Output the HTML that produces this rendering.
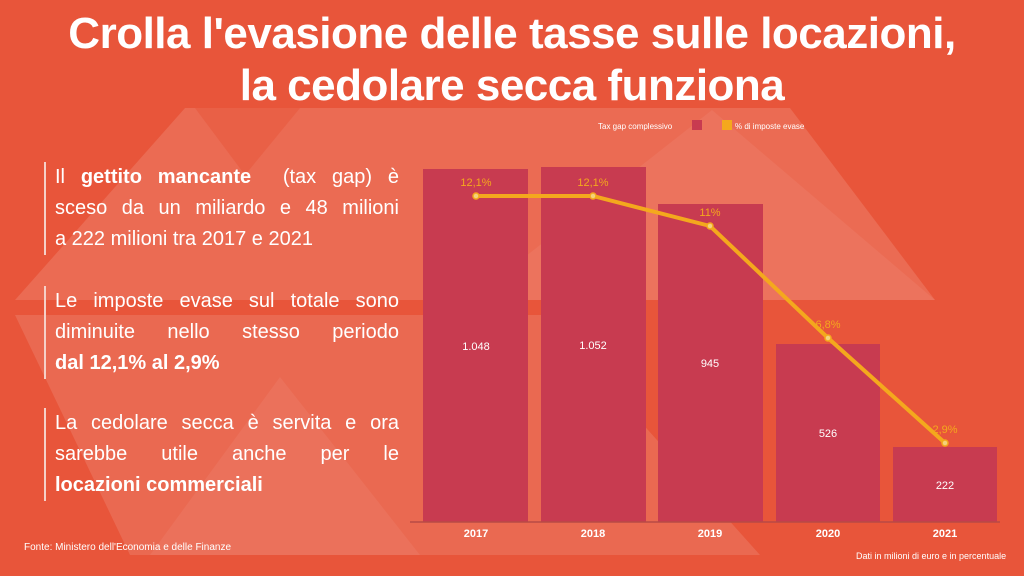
<!DOCTYPE html><html><head><style>
body{margin:0;width:1024px;height:576px;overflow:hidden;background:#e8553a;font-family:"Liberation Sans",sans-serif;position:relative}
.t{position:absolute;left:0;width:1024px;text-align:center;color:#fff;font-weight:bold;font-size:44px;letter-spacing:-0.5px}
.p{position:absolute;left:44px;width:344px;border-left:2px solid #f5d0c8;padding-left:9px;color:#fff;font-size:20px;line-height:31px}
.p div{text-align:justify;text-align-last:justify;white-space:nowrap}
.p div.l{text-align-last:left}
.p b{font-weight:bold}
.s{position:absolute;color:#fff;font-size:10px}
</style></head><body>
<svg width="1024" height="576" style="position:absolute;left:0;top:0">
<g fill="#fff">
<polygon opacity="0.13" points="15,300 185,108 790,108 935,300"/>
<polygon opacity="0.12" points="15,315 545,315 760,555 130,555"/>
<polygon opacity="0.06" points="150,555 280,377 420,555"/>
<polygon opacity="0.06" points="470,300 712,110 935,300"/>
</g>
<polygon points="195,108 300,108 245,175" fill="#e8553a" opacity="0.5"/>
<g fill="#c83b50">
<rect x="423" y="169" width="105" height="353"/>
<rect x="541" y="167" width="105" height="355"/>
<rect x="658" y="204" width="105" height="318"/>
<rect x="776" y="344" width="104" height="178"/>
<rect x="893" y="447" width="104" height="75"/>
</g>
<line x1="410" y1="522" x2="1000" y2="522" stroke="#b84a45" stroke-width="1.5"/>
<polyline points="476,196 593,196 710,226 828,338 945,443" fill="none" stroke="#f4a81d" stroke-width="4"/>
<g fill="#f4d27a" stroke="#f4a81d" stroke-width="1.5">
<circle cx="476" cy="196" r="3"/><circle cx="593" cy="196" r="3"/><circle cx="710" cy="226" r="3"/><circle cx="828" cy="338" r="3"/><circle cx="945" cy="443" r="3"/></g>
<g font-family="Liberation Sans" font-size="11" text-anchor="middle" fill="#f4a81d">
<text x="476" y="186">12,1%</text><text x="593" y="186">12,1%</text><text x="710" y="216">11%</text><text x="828" y="328">6,8%</text><text x="945" y="433">2,9%</text></g>
<g font-family="Liberation Sans" font-size="11" text-anchor="middle" fill="#fff">
<text x="476" y="350">1.048</text><text x="593" y="349">1.052</text><text x="710" y="367">945</text><text x="828" y="437">526</text><text x="945" y="489">222</text>
<text x="476" y="537" font-weight="bold">2017</text><text x="593" y="537" font-weight="bold">2018</text><text x="710" y="537" font-weight="bold">2019</text><text x="828" y="537" font-weight="bold">2020</text><text x="945" y="537" font-weight="bold">2021</text></g>
<rect x="692" y="120" width="10" height="10" fill="#c83b50"/><rect x="722" y="120" width="10" height="10" fill="#f4a81d"/>
<g font-family="Liberation Sans" font-size="8" fill="#fff"><text x="598" y="129">Tax gap complessivo</text><text x="735" y="129">% di imposte evase</text></g>
</svg>
<div class="t" style="top:9px">Crolla l'evasione delle tasse sulle locazioni,</div>
<div class="t" style="top:61px">la cedolare secca funziona</div>
<div class="p" style="top:162px"><div>Il <b>gettito mancante</b> &nbsp;(tax gap) è</div><div>sceso da un miliardo e 48 milioni</div><div class="l">a 222 milioni tra 2017 e 2021</div></div>
<div class="p" style="top:286px"><div>Le imposte evase sul totale sono</div><div>diminuite nello stesso periodo</div><div class="l"><b>dal 12,1% al 2,9%</b></div></div>
<div class="p" style="top:408px"><div>La cedolare secca è servita e ora</div><div>sarebbe utile anche per le</div><div class="l"><b>locazioni commerciali</b></div></div>
<div class="s" style="left:24px;top:542px">Fonte: Ministero dell'Economia e delle Finanze</div>
<div class="s" style="left:856px;top:551px;font-size:9px">Dati in milioni di euro e in percentuale</div>
</body></html>
